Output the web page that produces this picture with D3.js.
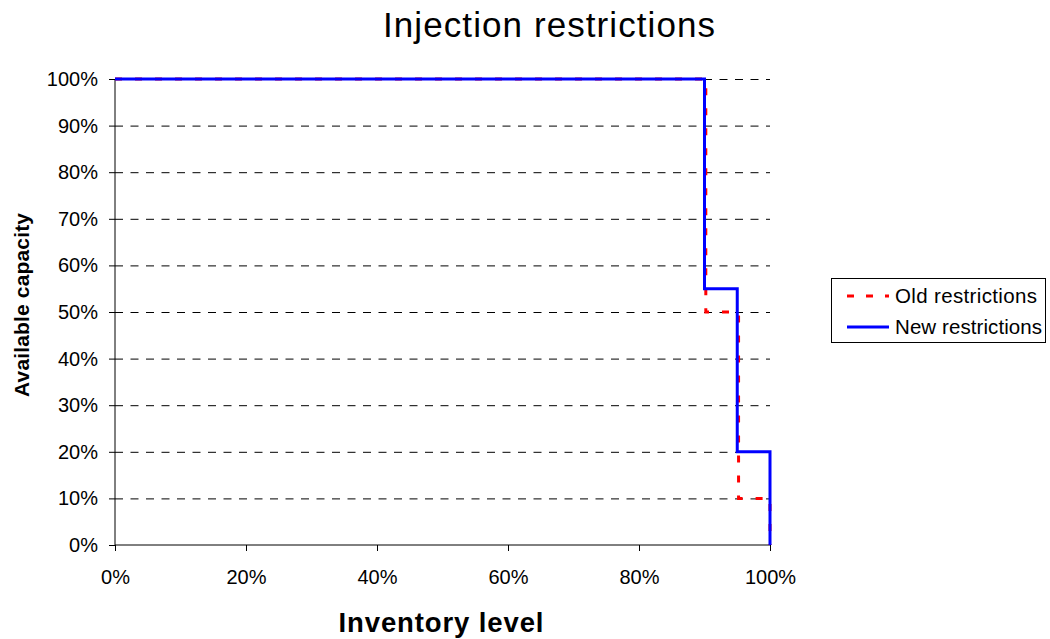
<!DOCTYPE html>
<html><head><meta charset="utf-8">
<script src="https://cdn.jsdelivr.net/npm/d3@7"></script>
<style>body{margin:0;background:#fff}svg{display:block}text{font-family:"Liberation Sans",Arial,sans-serif}</style>
</head><body>
<svg id="c" width="1050" height="639"></svg>
<script>
const oldX = [0, 90.2, 90.2, 95.2, 95.2, 100, 100];
const oldY = [100, 100, 50, 50, 10, 10, 0];
const newX = [0, 90, 90, 95, 95, 100, 100];
const newY = [100, 100, 55, 55, 20, 20, 0];
const xTicks = [0, 20, 40, 60, 80, 100];
const yTicks = [0, 10, 20, 30, 40, 50, 60, 70, 80, 90, 100];
const seriesNames = ["Old restrictions", "New restrictions"];

const svg = d3.select("#c");
const L = 115, R = 770, T = 79, B = 545;
const x = d3.scaleLinear().domain([0, 100]).range([L, R]);
const y = d3.scaleLinear().domain([0, 100]).range([B, T]);
const FF = '"Liberation Sans",Arial,sans-serif';

// gridlines
svg.append("g").selectAll("line").data(yTicks.filter(d => d > 0)).join("line")
  .attr("x1", L).attr("x2", R).attr("y1", d => y(d) + 0.5).attr("y2", d => y(d) + 0.5)
  .attr("stroke", "#000").attr("stroke-width", 1).attr("stroke-dasharray", "8,7.5");

// axes
const yAxis = d3.axisLeft(y).tickValues(yTicks).tickFormat(d => d + "%").tickSize(6).tickPadding(11);
const gy = svg.append("g").attr("transform", `translate(${L},0)`).call(yAxis);
const xAxis = d3.axisBottom(x).tickValues(xTicks).tickFormat(d => d + "%").tickSize(6).tickPadding(19);
const gx = svg.append("g").attr("transform", `translate(0,${B})`).call(xAxis);
[gy, gx].forEach(g => {
  g.select(".domain").attr("stroke", "#000").attr("d", g === gy ? `M0,${T}V${B}` : `M${L},0H${R}`);
  g.selectAll(".tick line").attr("stroke", "#000");
  g.selectAll(".tick text").attr("font-size", 20).attr("fill", "#000").style("font-family", FF);
});

const line = d3.line().x(d => x(d[0])).y(d => y(d[1]));
const oldPts = oldX.map((v, i) => [v, oldY[i]]);
const newPts = newX.map((v, i) => [v, newY[i]]);
svg.append("path").attr("d", line(oldPts)).attr("fill", "none").attr("stroke", "#ff0000")
  .attr("stroke-width", 3).attr("stroke-dasharray", "7,13");
svg.append("path").attr("d", line(newPts)).attr("fill", "none").attr("stroke", "#0000ff")
  .attr("stroke-width", 3);

// titles
svg.append("text").attr("x", 549).attr("y", 37).attr("text-anchor", "middle").attr("font-size", 35)
  .attr("textLength", 332).attr("lengthAdjust", "spacing").text("Injection restrictions");
svg.append("text").attr("x", 441).attr("y", 632).attr("text-anchor", "middle").attr("font-size", 27.5).attr("font-weight", "bold")
  .attr("textLength", 205).attr("lengthAdjust", "spacing").text("Inventory level");
svg.append("text").attr("transform", "translate(29,305) rotate(-90)").attr("text-anchor", "middle").attr("font-size", 21).attr("font-weight", "bold")
  .attr("textLength", 184).attr("lengthAdjust", "spacing").text("Available capacity");

// legend
const lg = svg.append("g");
lg.append("rect").attr("x", 831.5).attr("y", 278.5).attr("width", 214).attr("height", 64).attr("fill", "#fff").attr("stroke", "#000");
const styles = [{c: "#ff0000", da: "7,12"}, {c: "#0000ff", da: null}];
seriesNames.forEach((n, i) => {
  const yy = 296 + i * 31;
  const l = lg.append("line").attr("x1", 847).attr("x2", 889).attr("y1", yy).attr("y2", yy)
    .attr("stroke", styles[i].c).attr("stroke-width", 3);
  if (styles[i].da) l.attr("stroke-dasharray", styles[i].da);
  lg.append("text").attr("x", 895).attr("y", yy + 7).attr("font-size", 20.5)
    .attr("textLength", i === 0 ? 142 : 147).attr("lengthAdjust", "spacing").text(n);
});
</script>
</body></html>
